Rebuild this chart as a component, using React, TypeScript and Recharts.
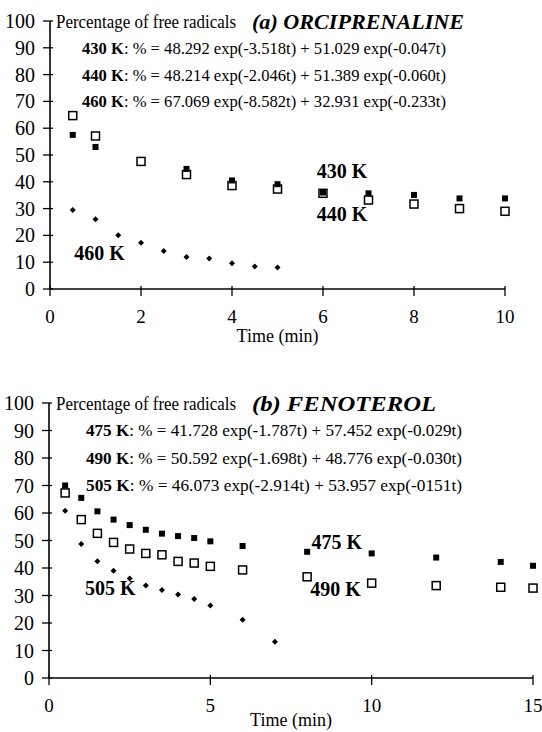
import React from 'react';
import { ScatterChart, Scatter, XAxis, YAxis, ReferenceDot } from 'recharts';

const FONT = '"Liberation Serif", "Times New Roman", Times, serif';

// ---- Panel (a) ORCIPRENALINE ----
const timesA430 = [0.5, 1, 3, 4, 5, 6, 7, 8, 9, 10];
const valuesA430 = [57.5, 53.0, 44.8, 40.5, 39.1, 36.0, 35.7, 35.1, 33.8, 33.8];
const timesA440 = [0.5, 1, 2, 3, 4, 5, 6, 7, 8, 9, 10];
const valuesA440 = [64.7, 57.1, 47.6, 42.7, 38.6, 37.3, 35.7, 33.2, 31.7, 30.0, 29.0];
const timesA460 = [0.5, 1, 1.5, 2, 2.5, 3, 3.5, 4, 4.5, 5];
const valuesA460 = [29.5, 26.0, 20.1, 17.3, 14.2, 11.9, 11.4, 9.6, 8.4, 8.0];

// ---- Panel (b) FENOTEROL ----
const timesB475 = [0.5, 1, 1.5, 2, 2.5, 3, 3.5, 4, 4.5, 5, 6, 8, 10, 12, 14, 15];
const valuesB475 = [70.0, 65.5, 60.6, 57.6, 55.6, 53.9, 52.5, 51.6, 50.9, 49.7, 48.0, 45.9, 45.3, 43.8, 42.2, 40.8];
const timesB490 = [0.5, 1, 1.5, 2, 2.5, 3, 3.5, 4, 4.5, 5, 6, 8, 10, 12, 14, 15];
const valuesB490 = [67.3, 57.6, 52.6, 49.3, 46.9, 45.3, 44.8, 42.4, 41.8, 40.6, 39.3, 36.8, 34.5, 33.6, 33.0, 32.7];
const timesB505 = [0.5, 1, 1.5, 2, 2.5, 3, 3.5, 4, 4.5, 5, 6, 7];
const valuesB505 = [60.8, 48.7, 42.5, 39.0, 36.2, 33.6, 32.0, 30.4, 28.7, 26.4, 21.2, 13.2];

// ---- Ticks ----
const xTicksA = [0, 2, 4, 6, 8, 10];
const xTicksB = [0, 5, 10, 15];
const yTicks = [0, 10, 20, 30, 40, 50, 60, 70, 80, 90, 100];

// ---- Text ----
const titleText = 'Percentage of free radicals';
const titleA = '(a) ORCIPRENALINE';
const titleB = '(b) FENOTEROL';
const eqA = [
  ['430 K', ': % = 48.292 exp(-3.518t) + 51.029 exp(-0.047t)'],
  ['440 K', ': % = 48.214 exp(-2.046t) + 51.389 exp(-0.060t)'],
  ['460 K', ': % = 67.069 exp(-8.582t) + 32.931 exp(-0.233t)'],
];
const eqB = [
  ['475 K', ': % = 41.728 exp(-1.787t) + 57.452 exp(-0.029t)'],
  ['490 K', ': % = 50.592 exp(-1.698t) + 48.776 exp(-0.030t)'],
  ['505 K', ': % = 46.073 exp(-2.914t) + 53.957 exp(-0151t)'],
];
const labelsA = [
  { t: 6.42, v: 44.2, text: '430 K' },
  { t: 6.42, v: 28.1, text: '440 K' },
  { t: 1.09, v: 13.3, text: '460 K' },
];
const labelsB = [
  { t: 8.92, v: 49.6, text: '475 K' },
  { t: 8.88, v: 32.4, text: '490 K' },
  { t: 1.9, v: 32.6, text: '505 K' },
];

const zip = (ts: number[], vs: number[]) => ts.map((t, i) => ({ t, v: vs[i] }));

const FilledSquare = (p: any) => (
  <rect x={p.cx - 3} y={p.cy - 3} width={6} height={6} fill="#000" />
);
const OpenSquare = (p: any) => (
  <rect x={p.cx - 4} y={p.cy - 4} width={8} height={8} fill="none" stroke="#000" strokeWidth={1.5} />
);
const Diamond = (p: any) => (
  <polygon
    points={`${p.cx},${p.cy - 3} ${p.cx + 3},${p.cy} ${p.cx},${p.cy + 3} ${p.cx - 3},${p.cy}`}
    fill="#000"
  />
);

const YTick = (props: any) => {
  const { x, y, payload } = props;
  return (
    <g>
      <line x1={x - 5} x2={x + 5} y1={y} y2={y} stroke="#000" strokeWidth={1.3} />
      <text x={x - 13} y={y} textAnchor="end" dominantBaseline="central" fontSize={20} fontFamily={FONT} fill="#000">
        {payload.value}
      </text>
    </g>
  );
};

const XTick = (props: any) => {
  const { x, y, payload } = props;
  return (
    <g>
      <line x1={x} x2={x} y1={y - 5} y2={y + 5} stroke="#000" strokeWidth={1.3} />
      <text x={x} y={y + 25} textAnchor="middle" dominantBaseline="central" fontSize={19} fontFamily={FONT} fill="#000">
        {payload.value}
      </text>
    </g>
  );
};

const axisLine = { stroke: '#000', strokeWidth: 1.6 };

function Panel(props: {
  height: number;
  margin: any;
  xMax: number;
  xTicks: number[];
  xHeight: number;
  labelDy: number;
  s1: any[];
  s2: any[];
  s3: any[];
  labels: { t: number; v: number; text: string }[];
}) {
  const { height, margin, xMax, xTicks, xHeight, labelDy, s1, s2, s3, labels } = props;
  const TimeLabel = (lp: any) => {
    const vb = lp.viewBox || {};
    return (
      <text
        x={vb.x + vb.width / 2}
        y={vb.y + labelDy}
        textAnchor="middle"
        dominantBaseline="central"
        fontSize={18}
        fontFamily={FONT}
        fill="#000"
      >
        Time (min)
      </text>
    );
  };
  return (
    <ScatterChart width={542} height={height} margin={margin}>
      <XAxis
        type="number"
        dataKey="t"
        domain={[0, xMax]}
        ticks={xTicks}
        interval={0}
        tick={<XTick />}
        tickLine={false}
        tickSize={0}
        axisLine={axisLine}
        height={xHeight}
        label={{ content: TimeLabel }}
      />
      <YAxis
        type="number"
        dataKey="v"
        domain={[0, 100]}
        ticks={yTicks}
        interval={0}
        width={40}
        tick={<YTick />}
        tickLine={false}
        tickSize={0}
        axisLine={axisLine}
      />
      <Scatter data={s3} shape={Diamond} isAnimationActive={false} />
      <Scatter data={s1} shape={FilledSquare} isAnimationActive={false} />
      <Scatter data={s2} shape={OpenSquare} isAnimationActive={false} />
      {labels.map((l) => (
        <ReferenceDot
          key={l.text}
          x={l.t}
          y={l.v}
          r={0}
          fill="none"
          stroke="none"
          label={{
            value: l.text,
            position: 'center',
            fill: '#000',
            fontSize: 20,
            fontWeight: 'bold',
            fontFamily: FONT,
          }}
        />
      ))}
    </ScatterChart>
  );
}

function Header(props: {
  y: number;
  title: string;
  titleLen: number;
  eqs: string[][];
  rowYs: number[];
  titleX: number;
  eqX: number;
  eqLen: number;
}) {
  const { y, title, titleLen, eqs, rowYs, titleX, eqX, eqLen } = props;
  return (
    <g fontFamily={FONT} fill="#000">
      <text x={56} y={y} dominantBaseline="central" fontSize={19} textLength={180} lengthAdjust="spacingAndGlyphs">
        {titleText}
      </text>
      <text
        x={titleX}
        y={y}
        dominantBaseline="central"
        fontSize={22}
        fontWeight="bold"
        fontStyle="italic"
        textLength={titleLen}
        lengthAdjust="spacingAndGlyphs"
      >
        {title}
      </text>
      {eqs.map((e, i) => (
        <text
          key={i}
          x={eqX}
          y={rowYs[i]}
          dominantBaseline="central"
          fontSize={17}
          textLength={eqLen}
          lengthAdjust="spacingAndGlyphs"
        >
          <tspan fontWeight="bold">{e[0]}</tspan>
          <tspan>{e[1]}</tspan>
        </text>
      ))}
    </g>
  );
}

export default function App() {
  return (
    <div style={{ position: 'absolute', left: 0, top: 0, width: 542, height: 732, background: '#fff', overflow: 'hidden' }}>
      <div style={{ position: 'absolute', left: 0, top: 0 }}>
        <Panel
          height={350}
          margin={{ top: 21, right: 37, bottom: 6, left: 10 }}
          xMax={10}
          xTicks={xTicksA}
          xHeight={55}
          labelDy={47}
          s1={zip(timesA430, valuesA430)}
          s2={zip(timesA440, valuesA440)}
          s3={zip(timesA460, valuesA460)}
          labels={labelsA}
        />
      </div>
      <div style={{ position: 'absolute', left: 0, top: 370 }}>
        <Panel
          height={362}
          margin={{ top: 33, right: 9, bottom: 0, left: 9 }}
          xMax={15}
          xTicks={xTicksB}
          xHeight={54}
          labelDy={42}
          s1={zip(timesB475, valuesB475)}
          s2={zip(timesB490, valuesB490)}
          s3={zip(timesB505, valuesB505)}
          labels={labelsB}
        />
      </div>
      <svg width={542} height={732} style={{ position: 'absolute', left: 0, top: 0, pointerEvents: 'none' }}>
        <Header y={21} title={titleA} titleLen={212} eqs={eqA} rowYs={[48, 75, 101]} titleX={252} eqX={82} eqLen={364} />
        <Header y={403} title={titleB} titleLen={184} eqs={eqB} rowYs={[430, 458, 485]} titleX={252} eqX={86} eqLen={376} />
      </svg>
    </div>
  );
}
